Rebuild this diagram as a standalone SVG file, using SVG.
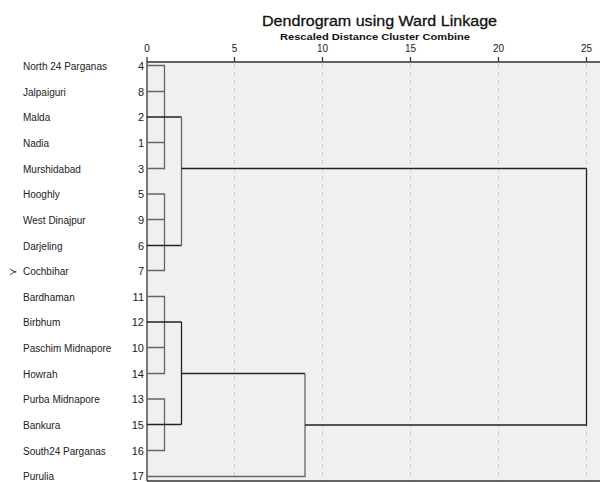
<svg xmlns="http://www.w3.org/2000/svg" width="600" height="482" viewBox="0 0 600 482">
<style>
.t{font-family:"Liberation Sans",Arial,sans-serif;fill:#111}
.nm{font-family:"Liberation Sans",Arial,sans-serif;font-size:10px;fill:#222}
.num{font-family:"Liberation Sans",Arial,sans-serif;font-size:11px;fill:#222;text-anchor:end}
.tk{font-family:"Liberation Sans",Arial,sans-serif;font-size:10px;fill:#222;text-anchor:middle}
.grid{stroke:#cfcfcf;stroke-width:1;stroke-dasharray:4,4;fill:none}
.g{stroke:#666;stroke-width:1.3;fill:none}
.k{stroke:#222;stroke-width:1.3;fill:none}
.ax{stroke:#333;stroke-width:1.3;fill:none}
</style>
<rect x="0" y="0" width="600" height="482" fill="#fff"/>
<g id="plot-area">
<rect x="147" y="62" width="453" height="419" fill="#f0f0f0"/>
<line class="grid" x1="234.5" y1="64" x2="234.5" y2="481"/>
<line class="grid" x1="322.5" y1="64" x2="322.5" y2="481"/>
<line class="grid" x1="410.5" y1="64" x2="410.5" y2="481"/>
<line class="grid" x1="498.5" y1="64" x2="498.5" y2="481"/>
<line class="grid" x1="586.5" y1="64" x2="586.5" y2="481"/>
<line class="ax" x1="147" y1="62" x2="600" y2="62"/>
<line class="ax" x1="147" y1="57" x2="147" y2="481"/>
<line class="ax" x1="147" y1="481" x2="600" y2="481"/>
<line class="ax" x1="234.5" y1="57" x2="234.5" y2="62"/>
<line class="ax" x1="322.5" y1="57" x2="322.5" y2="62"/>
<line class="ax" x1="410.5" y1="57" x2="410.5" y2="62"/>
<line class="ax" x1="498.5" y1="57" x2="498.5" y2="62"/>
<line class="ax" x1="586.5" y1="57" x2="586.5" y2="62"/>
</g>
<g id="titles">
<text class="t" x="262" y="25.5" font-size="15.5" stroke="#111" stroke-width="0.3" textLength="235" lengthAdjust="spacingAndGlyphs">Dendrogram using Ward Linkage</text>
<text class="t" x="280" y="39.5" font-size="9.5" font-weight="bold" textLength="190" lengthAdjust="spacingAndGlyphs">Rescaled Distance Cluster Combine</text>
</g>
<g id="axis-labels">
<text class="tk" x="147" y="52">0</text>
<text class="tk" x="234.5" y="52">5</text>
<text class="tk" x="322.5" y="52">10</text>
<text class="tk" x="410.5" y="52">15</text>
<text class="tk" x="498.5" y="52">20</text>
<text class="tk" x="586.5" y="52">25</text>
</g>
<g id="leaves">
<g id="leaf-4"><text class="nm" x="23" y="69.5">North 24 Parganas</text><text class="num" x="144" y="69.5">4</text></g>
<g id="leaf-8"><text class="nm" x="23" y="95.5">Jalpaiguri</text><text class="num" x="144" y="95.5">8</text></g>
<g id="leaf-2"><text class="nm" x="23" y="121">Malda</text><text class="num" x="144" y="121">2</text></g>
<g id="leaf-1"><text class="nm" x="23" y="146.5">Nadia</text><text class="num" x="144" y="146.5">1</text></g>
<g id="leaf-3"><text class="nm" x="23" y="172.5">Murshidabad</text><text class="num" x="144" y="172.5">3</text></g>
<g id="leaf-5"><text class="nm" x="23" y="198">Hooghly</text><text class="num" x="144" y="198">5</text></g>
<g id="leaf-9"><text class="nm" x="23" y="223.5">West Dinajpur</text><text class="num" x="144" y="223.5">9</text></g>
<g id="leaf-6"><text class="nm" x="23" y="249.5">Darjeling</text><text class="num" x="144" y="249.5">6</text></g>
<g id="leaf-7"><text class="nm" x="9" y="274.5" style="font-family:'DejaVu Sans',sans-serif;font-size:10px">≻</text><text class="nm" x="23" y="274.5">Cochbihar</text><text class="num" x="144" y="274.5">7</text></g>
<g id="leaf-11"><text class="nm" x="23" y="300.5">Bardhaman</text><text class="num" x="144" y="300.5">11</text></g>
<g id="leaf-12"><text class="nm" x="23" y="326">Birbhum</text><text class="num" x="144" y="326">12</text></g>
<g id="leaf-10"><text class="nm" x="23" y="351.5">Paschim Midnapore</text><text class="num" x="144" y="351.5">10</text></g>
<g id="leaf-14"><text class="nm" x="23" y="377.5">Howrah</text><text class="num" x="144" y="377.5">14</text></g>
<g id="leaf-13"><text class="nm" x="23" y="403">Purba Midnapore</text><text class="num" x="144" y="403">13</text></g>
<g id="leaf-15"><text class="nm" x="23" y="428.5">Bankura</text><text class="num" x="144" y="428.5">15</text></g>
<g id="leaf-16"><text class="nm" x="23" y="454.5">South24 Parganas</text><text class="num" x="144" y="454.5">16</text></g>
<g id="leaf-17"><text class="nm" x="23" y="480">Purulia</text><text class="num" x="144" y="480">17</text></g>
</g>
<g id="connectors">
<path class="g" d="M147 65.5H164.5V168.5H147M147 91.5H164.5M147 142.5H164.5"/>
<path class="k" d="M147 117H181.5"/>
<path class="g" d="M147 194H164.5V270.5H147M147 219.5H164.5"/>
<path class="k" d="M147 245.5H181.5"/>
<path class="g" d="M181.5 117V245.5"/>
<path class="k" d="M181.5 168.5H586.5"/>
<path class="g" d="M147 296.5H164.5V373.5H147M147 347.5H164.5"/>
<path class="k" d="M147 322H181.5"/>
<path class="g" d="M147 399H164.5V450.5H147"/>
<path class="k" d="M147 424.5H181.5"/>
<path class="k" d="M181.5 322V424.5"/>
<path class="k" d="M181.5 373.5H305"/>
<path class="g" d="M305 373.5V476.5H147"/>
<path class="k" d="M305 425H586.5V168.5"/>
</g>
</svg>
